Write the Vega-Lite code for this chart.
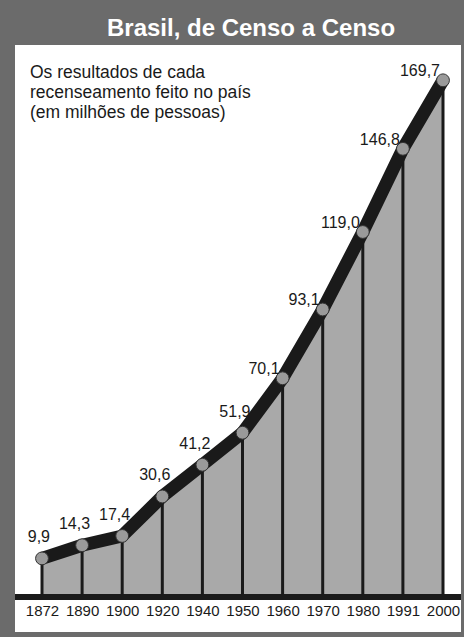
{
  "$schema": "https://vega.github.io/schema/vega-lite/v6.json",
  "width": 446,
  "height": 587,
  "autosize": {"type": "none"},
  "padding": {"left": 15, "top": 45, "right": 3, "bottom": 5},
  "background": "#6b6b6b",
  "config": {"view": {"fill": "white", "stroke": null}, "font": "Liberation Sans"},
  "title": {
    "text": "Brasil, de Censo a Censo",
    "color": "white",
    "fontSize": 24,
    "fontWeight": "bold",
    "font": "Liberation Sans",
    "anchor": "middle",
    "frame": "group",
    "baseline": "alphabetic",
    "offset": 8,
    "dx": 13,
    "dy": 23
  },
  "data": {
    "values": [
      {"year": "1872", "pop": 9.9, "label": "9,9"},
      {"year": "1890", "pop": 14.3, "label": "14,3"},
      {"year": "1900", "pop": 17.4, "label": "17,4"},
      {"year": "1920", "pop": 30.6, "label": "30,6"},
      {"year": "1940", "pop": 41.2, "label": "41,2"},
      {"year": "1950", "pop": 51.9, "label": "51,9"},
      {"year": "1960", "pop": 70.1, "label": "70,1"},
      {"year": "1970", "pop": 93.1, "label": "93,1"},
      {"year": "1980", "pop": 119.0, "label": "119,0"},
      {"year": "1991", "pop": 146.8, "label": "146,8"},
      {"year": "2000", "pop": 169.7, "label": "169,7"}
    ]
  },
  "layer": [
    {
      "mark": {"type": "area", "color": "#a9a9a9", "opacity": 1},
      "encoding": {
        "x": {"field": "year", "type": "ordinal", "scale": {"type": "point", "range": [27, 428], "padding": 0},
              "axis": {"title": null, "domain": false, "ticks": false, "tickSize": 0, "labelPadding": 2, "offset": -31, "labelFontSize": 15, "labelColor": "#1a1a1a", "labelAngle": 0, "labelFont": "Liberation Sans", "grid": false}},
        "y": {"field": "pop", "type": "quantitative", "scale": {"domain": [-14.7, 181.5], "nice": false, "zero": false}, "axis": null},
        "y2": {"datum": -3}
      }
    },
    {
      "mark": {"type": "rule", "color": "#1a1a1a", "strokeWidth": 3},
      "encoding": {
        "x": {"field": "year", "type": "ordinal", "scale": {"type": "point", "range": [27, 428], "padding": 0},
              "axis": {"title": null, "domain": false, "ticks": false, "tickSize": 0, "labelPadding": 2, "offset": -31, "labelFontSize": 15, "labelColor": "#1a1a1a", "labelAngle": 0, "labelFont": "Liberation Sans", "grid": false}},
        "y": {"field": "pop", "type": "quantitative", "scale": {"domain": [-14.7, 181.5], "nice": false, "zero": false}, "axis": null},
        "y2": {"datum": -3}
      }
    },
    {
      "transform": [{"filter": "datum.year == '1872'"}],
      "mark": {"type": "rule", "color": "#1a1a1a", "strokeWidth": 6},
      "encoding": {
        "y": {"datum": -3, "type": "quantitative", "scale": {"domain": [-14.7, 181.5], "nice": false, "zero": false}, "axis": null}
      }
    },
    {
      "mark": {"type": "line", "color": "#1a1a1a", "strokeWidth": 13, "strokeJoin": "round"},
      "encoding": {
        "x": {"field": "year", "type": "ordinal", "scale": {"type": "point", "range": [27, 428], "padding": 0},
              "axis": {"title": null, "domain": false, "ticks": false, "tickSize": 0, "labelPadding": 2, "offset": -31, "labelFontSize": 15, "labelColor": "#1a1a1a", "labelAngle": 0, "labelFont": "Liberation Sans", "grid": false}},
        "y": {"field": "pop", "type": "quantitative", "scale": {"domain": [-14.7, 181.5], "nice": false, "zero": false}, "axis": null}
      }
    },
    {
      "mark": {"type": "circle", "color": "#9a9a9a", "opacity": 1, "size": 165, "stroke": "#333333", "strokeWidth": 1},
      "encoding": {
        "x": {"field": "year", "type": "ordinal", "scale": {"type": "point", "range": [27, 428], "padding": 0},
              "axis": {"title": null, "domain": false, "ticks": false, "tickSize": 0, "labelPadding": 2, "offset": -31, "labelFontSize": 15, "labelColor": "#1a1a1a", "labelAngle": 0, "labelFont": "Liberation Sans", "grid": false}},
        "y": {"field": "pop", "type": "quantitative", "scale": {"domain": [-14.7, 181.5], "nice": false, "zero": false}, "axis": null}
      }
    },
    {
      "transform": [{"filter": "datum.pop < 60"}],
      "mark": {"type": "text", "align": "right", "baseline": "alphabetic", "dx": 8, "dy": -16, "fontSize": 16, "color": "#1a1a1a"},
      "encoding": {
        "x": {"field": "year", "type": "ordinal", "scale": {"type": "point", "range": [27, 428], "padding": 0},
              "axis": {"title": null, "domain": false, "ticks": false, "tickSize": 0, "labelPadding": 2, "offset": -31, "labelFontSize": 15, "labelColor": "#1a1a1a", "labelAngle": 0, "labelFont": "Liberation Sans", "grid": false}},
        "y": {"field": "pop", "type": "quantitative", "scale": {"domain": [-14.7, 181.5], "nice": false, "zero": false}, "axis": null},
        "text": {"field": "label"}
      }
    },
    {
      "transform": [{"filter": "datum.pop >= 60"}],
      "mark": {"type": "text", "align": "right", "baseline": "alphabetic", "dx": -3, "dy": -4, "fontSize": 16, "color": "#1a1a1a"},
      "encoding": {
        "x": {"field": "year", "type": "ordinal", "scale": {"type": "point", "range": [27, 428], "padding": 0},
              "axis": {"title": null, "domain": false, "ticks": false, "tickSize": 0, "labelPadding": 2, "offset": -31, "labelFontSize": 15, "labelColor": "#1a1a1a", "labelAngle": 0, "labelFont": "Liberation Sans", "grid": false}},
        "y": {"field": "pop", "type": "quantitative", "scale": {"domain": [-14.7, 181.5], "nice": false, "zero": false}, "axis": null},
        "text": {"field": "label"}
      }
    },
    {
      "transform": [{"filter": "datum.year == '1872'"}],
      "mark": {"type": "text", "align": "left", "baseline": "alphabetic", "dx": -12, "fontSize": 17.5, "lineHeight": 20, "color": "#1a1a1a",
               "text": ["Os resultados de cada", "recenseamento feito no país", "(em milhões de pessoas)"]},
      "encoding": {
        "x": {"field": "year", "type": "ordinal", "scale": {"type": "point", "range": [27, 428], "padding": 0},
              "axis": {"title": null, "domain": false, "ticks": false, "tickSize": 0, "labelPadding": 2, "offset": -31, "labelFontSize": 15, "labelColor": "#1a1a1a", "labelAngle": 0, "labelFont": "Liberation Sans", "grid": false}},
        "y": {"datum": 170.5, "type": "quantitative", "scale": {"domain": [-14.7, 181.5], "nice": false, "zero": false}, "axis": null}
      }
    }
  ]
}
